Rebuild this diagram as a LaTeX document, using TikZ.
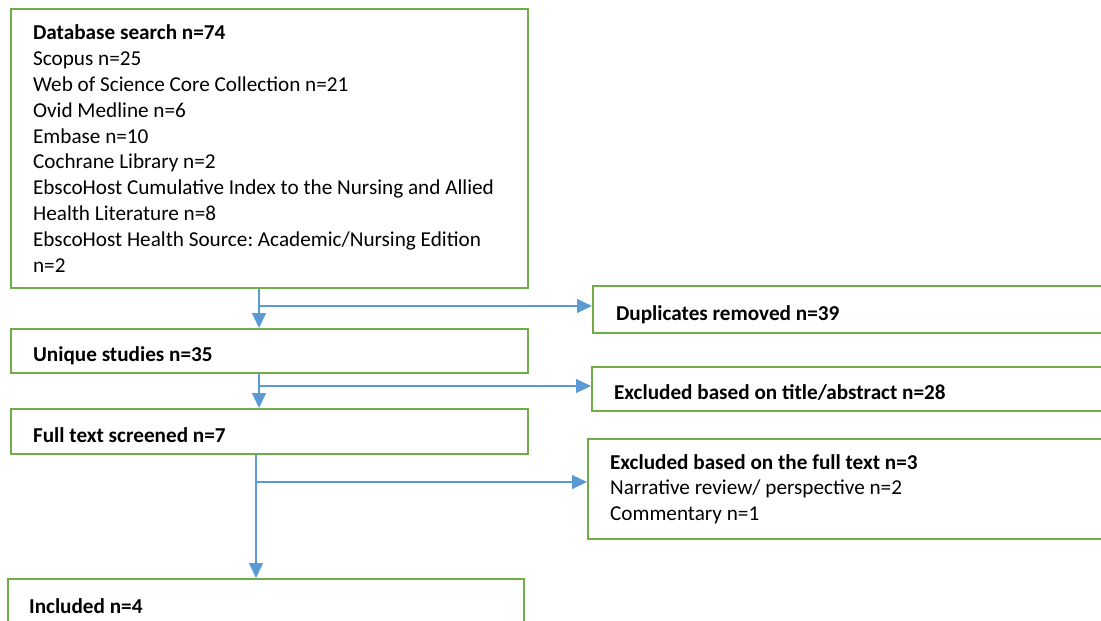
\documentclass[tikz,border=0pt]{standalone}
\usepackage{fontspec}
\setmainfont{Carlito}
\usetikzlibrary{arrows.meta}
\definecolor{boxgreen}{HTML}{70AD47}
\definecolor{arrowblue}{HTML}{5B9BD5}
\begin{document}
\frenchspacing
\hyphenpenalty=10000\relax
\exhyphenpenalty=10000\relax
\begin{tikzpicture}[x=0.5pt,y=-0.5pt,
  box/.style={draw=boxgreen, line width=1.1pt, rectangle, anchor=north west,
    align=flush left, inner ysep=0pt,
    font=\fontsize{10.6}{12.9}\selectfont},
  oneline/.style={text height=10.5pt, text depth=0pt},
  link/.style={draw=arrowblue, line width=0.65pt},
  flow/.style={link, -{Triangle[length=7.5pt,width=7pt]}},
]
\useasboundingbox (0,0) rectangle (1101,620);

\node[box, inner xsep=11pt, text width=236.5pt, minimum height=139.5pt] (db) at (10,8)
 {\textbf{Database search n=74}\\
  Scopus n=25\\
  Web of Science Core Collection n=21\\
  Ovid Medline n=6\\
  Embase n=10\\
  Cochrane Library n=2\\
  EbscoHost Cumulative Index to the Nursing and Allied\\
  Health Literature n=8\\
  EbscoHost Health Source: Academic/Nursing Edition\\
  n=2};

\node[box, oneline, inner xsep=11pt, text width=236.5pt, minimum height=22pt] (uniq) at (10,328)
 {\textbf{Unique studies n=35}};

\node[box, oneline, inner xsep=11pt, text width=236.5pt, minimum height=22.5pt] (full) at (10,408)
 {\textbf{Full text screened n=7}};

\node[box, oneline, inner xsep=10.5pt, text width=237pt, minimum height=24pt] (incl) at (7,578)
 {\textbf{Included n=4}};

\node[box, oneline, inner xsep=11.5pt, text width=237pt, minimum height=23.5pt] (dup) at (592,285)
 {\textbf{Duplicates removed n=39}};

\node[box, oneline, inner xsep=11pt, text width=238pt, minimum height=22pt] (extitle) at (591,366)
 {\textbf{Excluded based on title/abstract n=28}};

\node[box, inner xsep=11pt, text width=240pt, minimum height=50pt,
      font=\fontsize{10.6}{12.6}\selectfont] (exfull) at (587,438)
 {\textbf{Excluded based on the full text n=3}\\
  Narrative review/ perspective n=2\\
  Commentary n=1};

\coordinate (j1) at (259,306);
\coordinate (j2) at (259,386);
\coordinate (j3) at (256,482);

\draw[flow] (db.south -| j1) -- (uniq.north -| j1);
\draw[flow] (j1) -- (j1 -| dup.west);
\draw[flow] (uniq.south -| j2) -- (full.north -| j2);
\draw[flow] (j2) -- (j2 -| extitle.west);
\draw[flow] (full.south -| j3) -- (incl.north -| j3);
\draw[flow] (j3) -- (j3 -| exfull.west);
\end{tikzpicture}
\end{document}
